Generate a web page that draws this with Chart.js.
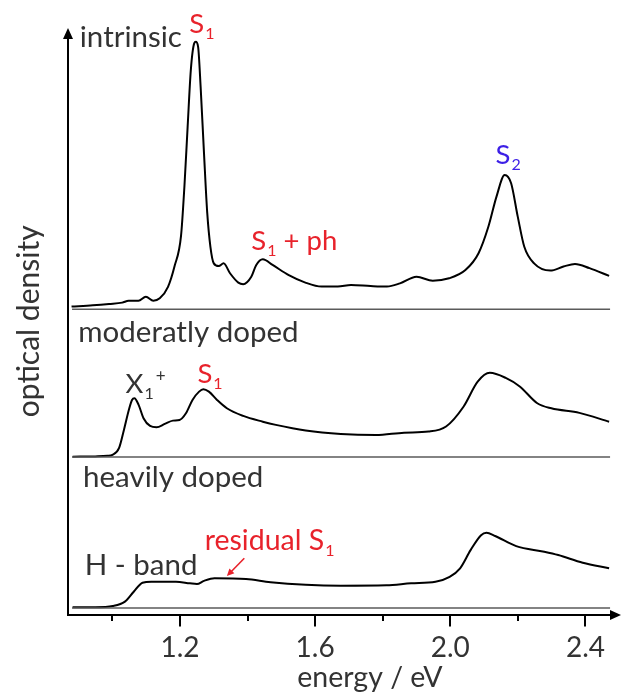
<!DOCTYPE html>
<html>
<head>
<meta charset="utf-8">
<script src="https://cdn.jsdelivr.net/npm/chart.js@4.4.0/dist/chart.umd.min.js"></script>
<style>
html,body{margin:0;padding:0;background:#fff;}
canvas{display:block;}
</style>
</head>
<body>
<canvas id="c" width="621" height="694"></canvas>
<script>
// ---------- data (energy in eV, optical density in arbitrary units, each relative to its own baseline) ----------
const intrinsicEnergy = [0.879,0.942,0.990,1.029,1.048,1.077,1.099,1.121,1.140,1.1645,1.184,1.203,1.213,1.2226,1.232,1.242,1.2467,1.2536,1.261,1.271,1.2806,1.290,1.300,1.3146,1.329,1.348,1.3726,1.387,1.411,1.4257,1.445,1.474,1.522,1.571,1.619,1.667,1.706,1.764,1.8125,1.851,1.900,1.948,1.9965,2.0447,2.0836,2.1126,2.1367,2.161,2.180,2.1996,2.219,2.248,2.296,2.335,2.369,2.412,2.470];
const intrinsicOD     = [0.010,0.015,0.020,0.025,0.032,0.032,0.047,0.032,0.041,0.084,0.162,0.275,0.459,0.684,0.896,0.996,1.002,0.983,0.834,0.585,0.361,0.234,0.172,0.162,0.172,0.135,0.100,0.094,0.122,0.166,0.187,0.166,0.128,0.100,0.085,0.085,0.091,0.087,0.085,0.097,0.122,0.107,0.116,0.147,0.210,0.309,0.422,0.503,0.472,0.347,0.234,0.172,0.145,0.160,0.170,0.154,0.125];

const moderateEnergy = [0.882,0.949,0.985,1.000,1.0194,1.034,1.0485,1.058,1.065,1.0775,1.092,1.1114,1.1306,1.155,1.179,1.1985,1.2176,1.237,1.2565,1.269,1.2855,1.3096,1.3387,1.387,1.445,1.4837,1.572,1.676,1.780,1.863,1.9356,1.9875,2.039,2.081,2.117,2.164,2.2055,2.2574,2.299,2.382,2.470];
const moderateOD     = [0.001,0.002,0.004,0.0075,0.0326,0.101,0.176,0.2135,0.220,0.195,0.145,0.116,0.111,0.1236,0.136,0.1386,0.1637,0.2135,0.2446,0.2536,0.2446,0.2135,0.1824,0.1536,0.132,0.120,0.099,0.086,0.082,0.091,0.095,0.114,0.188,0.282,0.315,0.296,0.264,0.201,0.182,0.165,0.132];

const heavyEnergy = [0.882,0.949,1.001,1.037,1.063,1.089,1.115,1.188,1.2295,1.250,1.271,1.302,1.3955,1.468,1.572,1.676,1.811,1.884,1.956,1.998,2.029,2.060,2.091,2.107,2.1326,2.195,2.278,2.3195,2.392,2.470];
const heavyOD     = [0.003,0.003,0.0075,0.024,0.061,0.095,0.0985,0.0985,0.0925,0.090,0.102,0.112,0.109,0.097,0.087,0.0835,0.085,0.0925,0.0985,0.117,0.149,0.217,0.273,0.282,0.270,0.232,0.211,0.1985,0.170,0.149];

const xTickValues = [1.0,1.2,1.4,1.6,1.8,2.0,2.2,2.4];
const xTickLabels = ['','1.2','','1.6','','2.0','','2.4'];

// ---------- layout / style configuration ----------
const FONT = 'Lato, "Open Sans", "DejaVu Sans", sans-serif';
const TEXT = '#333333';
const RED = '#e8222b';
const BLUE = '#3c1fe6';
const X_MIN = 0.8685, X_MAX = 2.4734, Y_MAX = 2.2;
const OFFSET = {intrinsic: 1.145, moderate: 0.592, heavy: 0.026};

const annotations = [
  {text:'intrinsic', x:0.9034, y:2.128, color:TEXT, size:29.5},
  {text:'S', sub:'1', x:1.2275, y:2.180, color:RED, size:27.5},
  {text:'S', sub:'1', after:' + ph', x:1.411, y:1.367, color:RED, size:27.5},
  {text:'S', sub:'2', x:2.134, y:1.689, color:BLUE, size:27.5},
  {text:'moderatly doped', x:0.899, y:1.024, color:TEXT, size:29.5},
  {text:'X', sub:'1', sup:'+', x:1.039, y:0.830, color:TEXT, size:27.5},
  {text:'S', sub:'1', x:1.2516, y:0.868, color:RED, size:27.5},
  {text:'heavily doped', x:0.913, y:0.481, color:TEXT, size:29.5},
  {text:'H - band', x:0.918, y:0.150, color:TEXT, size:29.5},
  {text:'residual S', sub:'1', x:1.273, y:0.243, color:RED, size:28.5}
];
const arrowFrom = {x:1.3903, y:0.2124}, arrowTo = {x:1.3387, y:0.146};
const xTitle = {text:'energy / eV', x:1.762, size:28.5};

function toPoints(E, V, off){ return E.map((e,i)=>({x:e, y:V[i]+off})); }
function baseline(off){ return [{x:X_MIN+0.012, y:off},{x:X_MAX, y:off}]; }

const curveStyle = {borderColor:'#000', borderWidth:2, pointRadius:0, fill:false, cubicInterpolationMode:'monotone'};
const baseStyle = {borderColor:'#5a5a5a', borderWidth:1.5, pointRadius:0, fill:false, tension:0};

const overlay = {
  id:'overlay',
  afterDraw(chart){
    const ctx = chart.ctx, xs = chart.scales.x, ys = chart.scales.y, a = chart.chartArea;
    const L = a.left, B = a.bottom, T = ys.getPixelForValue(Y_MAX)+0.5, R = chart.width;
    ctx.save();
    ctx.strokeStyle = '#000'; ctx.fillStyle = '#000'; ctx.lineWidth = 2;
    // y axis with arrow
    ctx.beginPath(); ctx.moveTo(L, B+1); ctx.lineTo(L, T+9); ctx.stroke();
    ctx.beginPath(); ctx.moveTo(L, T); ctx.lineTo(L-5, T+11); ctx.lineTo(L+5, T+11); ctx.closePath(); ctx.fill();
    // x axis with arrow
    ctx.beginPath(); ctx.moveTo(L-1, B); ctx.lineTo(R-9, B); ctx.stroke();
    ctx.beginPath(); ctx.moveTo(R, B); ctx.lineTo(R-11, B-5); ctx.lineTo(R-11, B+5); ctx.closePath(); ctx.fill();
    // tick marks
    xTickValues.forEach((v,i)=>{
      const px = Math.round(xs.getPixelForValue(v));
      const len = xTickLabels[i] ? 11.5 : 6;
      ctx.beginPath(); ctx.moveTo(px, B); ctx.lineTo(px, B+len); ctx.stroke();
    });
    // x axis title
    ctx.fillStyle = TEXT; ctx.textAlign = 'center'; ctx.textBaseline = 'alphabetic';
    ctx.font = xTitle.size + 'px ' + FONT;
    ctx.fillText(xTitle.text, xs.getPixelForValue(xTitle.x), chart.height - 7);
    // annotations
    ctx.textAlign = 'left';
    annotations.forEach(an=>{
      let px = xs.getPixelForValue(an.x), py = ys.getPixelForValue(an.y);
      const s = an.size;
      ctx.fillStyle = an.color;
      ctx.font = s + 'px ' + FONT;
      ctx.fillText(an.text, px, py);
      px += ctx.measureText(an.text).width;
      if (an.sub){
        ctx.font = Math.round(s*0.57) + 'px ' + FONT;
        ctx.fillText(an.sub, px+1, py+6);
        px += ctx.measureText(an.sub).width + 1;
      }
      if (an.sup){
        ctx.font = Math.round(s*0.62) + 'px ' + FONT;
        ctx.fillText(an.sup, px+2, py-11);
      }
      if (an.after){
        ctx.font = s + 'px ' + FONT;
        ctx.fillText(an.after, px, py);
      }
    });
    // red arrow
    const x1 = xs.getPixelForValue(arrowFrom.x), y1 = ys.getPixelForValue(arrowFrom.y);
    const x2 = xs.getPixelForValue(arrowTo.x), y2 = ys.getPixelForValue(arrowTo.y);
    ctx.strokeStyle = RED; ctx.fillStyle = RED; ctx.lineWidth = 1.6;
    const ang = Math.atan2(y2-y1, x2-x1);
    ctx.beginPath(); ctx.moveTo(x1,y1); ctx.lineTo(x2-5*Math.cos(ang), y2-5*Math.sin(ang)); ctx.stroke();
    ctx.beginPath(); ctx.moveTo(x2,y2);
    ctx.lineTo(x2-8*Math.cos(ang-0.45), y2-8*Math.sin(ang-0.45));
    ctx.lineTo(x2-8*Math.cos(ang+0.45), y2-8*Math.sin(ang+0.45));
    ctx.closePath(); ctx.fill();
    ctx.restore();
  }
};

function draw(){
  new Chart(document.getElementById('c'), {
    type:'line',
    data:{datasets:[
      Object.assign({data:baseline(OFFSET.intrinsic)}, baseStyle),
      Object.assign({data:baseline(OFFSET.moderate)}, baseStyle),
      Object.assign({data:baseline(OFFSET.heavy)}, baseStyle),
      Object.assign({label:'intrinsic', data:toPoints(intrinsicEnergy, intrinsicOD, OFFSET.intrinsic)}, curveStyle),
      Object.assign({label:'moderatly doped', data:toPoints(moderateEnergy, moderateOD, OFFSET.moderate)}, curveStyle),
      Object.assign({label:'heavily doped', data:toPoints(heavyEnergy, heavyOD, OFFSET.heavy)}, curveStyle)
    ]},
    options:{
      responsive:false, animation:false, devicePixelRatio:1,
      layout:{padding:{top:27.6, right:0, left:0, bottom:0}},
      plugins:{legend:{display:false}, tooltip:{enabled:false}},
      scales:{
        x:{
          type:'linear', min:X_MIN, max:X_MAX,
          afterBuildTicks:(s)=>{ s.ticks = xTickValues.map(v=>({value:v})); },
          afterFit:(s)=>{ s.height = 79; },
          grid:{display:false, drawTicks:false}, border:{display:false},
          ticks:{padding:16, autoSkip:false, maxRotation:0, minRotation:0, color:TEXT,
                 font:{family:FONT, size:28},
                 callback:(v)=>{ const i = xTickValues.findIndex(t=>Math.abs(t-v)<1e-6); return i>=0 ? xTickLabels[i] : ''; }},
          title:{display:false}
        },
        y:{
          type:'linear', min:0, max:Y_MAX,
          afterFit:(s)=>{ s.width = 68; },
          grid:{display:false, drawTicks:false}, border:{display:false},
          ticks:{display:false},
          title:{display:true, text:'optical density', color:TEXT, font:{family:FONT, size:30}, padding:{top:11, bottom:0}}
        }
      }
    },
    plugins:[overlay]
  });
}
if (document.fonts && document.fonts.load) {
  document.fonts.load('26px Lato').then(draw, draw);
} else { draw(); }
</script>
</body>
</html>
